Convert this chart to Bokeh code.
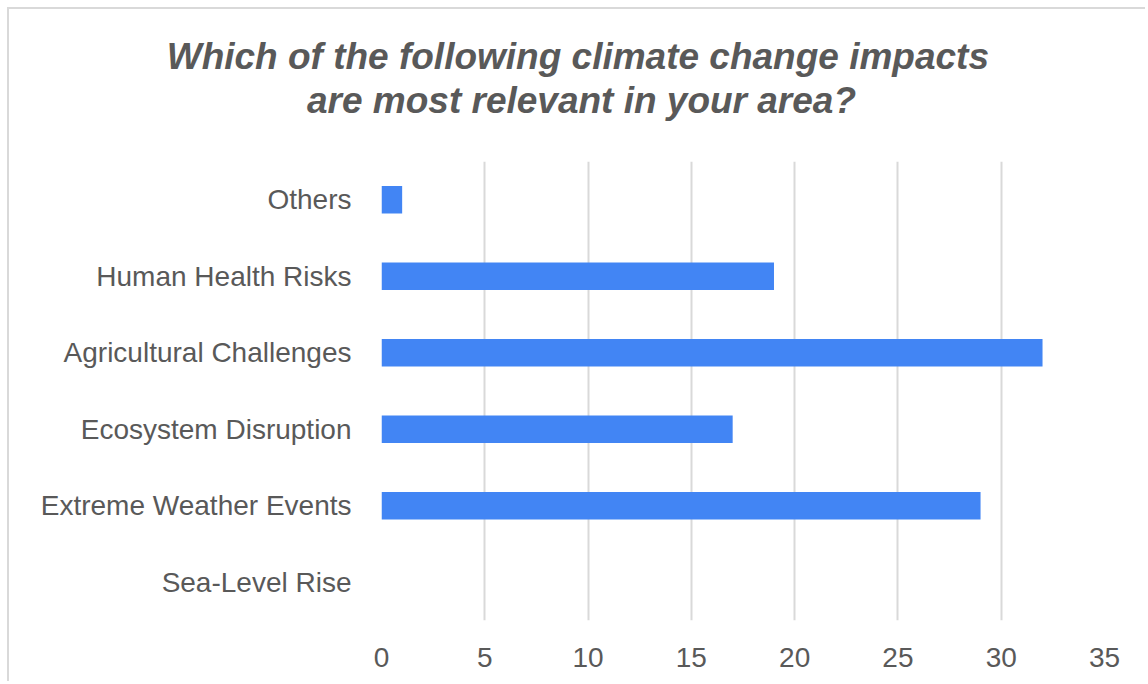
from bokeh.plotting import figure
from bokeh.layouts import column
from bokeh.models import Range1d, FactorRange, ColumnDataSource, FixedTicker
from bokeh.core.properties import value
from bokeh.embed import file_html
from bokeh.resources import INLINE

categories = ["Sea-Level Rise", "Extreme Weather Events", "Ecosystem Disruption",
              "Agricultural Challenges", "Human Health Risks", "Others"]
values = [0, 29, 17, 32, 19, 1]
x_ticks = [0, 5, 10, 15, 20, 25, 30, 35]
title_lines = ["Which of the following  climate change impacts",
               "are most relevant in your area?"]

FONT = "Liberation Sans, Arial, sans-serif"
GREY = "#595959"
W = 1136

# ---- title strip (pixel coordinate space) ----
t = figure(width=W, height=152, output_backend="svg", toolbar_location=None,
           x_range=Range1d(0, W), y_range=Range1d(152, 0),
           x_axis_type=None, y_axis_type=None, min_border=0)
t.outline_line_color = None
t.grid.visible = False
t.background_fill_color = "white"
t.border_fill_color = "white"
t.text(x=[573.5, 572], y=[47, 91], text=title_lines,
       text_font=value(FONT), text_font_size="37px", text_font_style="bold italic",
       text_color=GREY, text_align="center", text_baseline="middle")

# ---- bar chart ----
src = ColumnDataSource(dict(cat=categories, val=values))

p = figure(width=W, height=520, output_backend="svg", toolbar_location=None,
           y_range=FactorRange(factors=categories, range_padding=0),
           x_range=Range1d(0, 35),
           min_border_left=372, min_border_right=41, min_border_top=0, min_border_bottom=61)

p.hbar(y="cat", right="val", left=0, height=0.36, source=src,
       fill_color="#4285F4", line_color=None)

p.outline_line_color = None
p.background_fill_color = "white"
p.border_fill_color = "white"

p.ygrid.grid_line_color = None
p.xgrid.grid_line_color = "#d9d9d9"
p.xgrid.grid_line_width = 2
p.xaxis.ticker = FixedTicker(ticks=x_ticks)

for ax in (p.xaxis[0], p.yaxis[0]):
    ax.axis_line_color = None
    ax.major_tick_line_color = None
    ax.minor_tick_line_color = None
    ax.major_label_text_font = FONT
    ax.major_label_text_font_size = "28px"
    ax.major_label_text_color = GREY

p.xaxis.major_label_standoff = 21
p.yaxis.major_label_standoff = 24

for fig in (t, p):
    if "frame_align" in fig.properties():
        fig.frame_align = False

layout = column(t, p, spacing=0)
layout.styles = {"border-left": "2px solid #d9d9d9", "border-top": "2px solid #d9d9d9",
                 "margin-left": "7px", "margin-top": "7px"}

open("out.html", "w").write(file_html(layout, INLINE))
